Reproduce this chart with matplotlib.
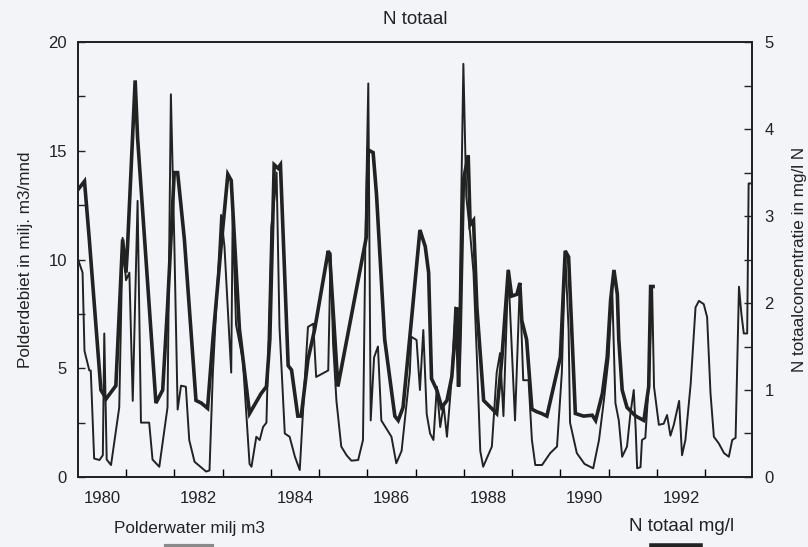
import matplotlib
matplotlib.use('agg')
import matplotlib.pyplot as plt
from matplotlib.lines import Line2D

plt.rcParams['font.family'] = ['Liberation Sans', 'DejaVu Sans']

# polderwater (milj. m3/mnd)
t_water = [1979.50, 1979.60, 1979.64, 1979.74, 1979.77, 1979.84, 1979.95, 1980.02, 1980.05, 1980.10,
           1980.19, 1980.36, 1980.43, 1980.50, 1980.57, 1980.64, 1980.74, 1980.81, 1980.88, 1980.98,
           1981.05, 1981.19, 1981.36, 1981.43, 1981.50, 1981.57, 1981.64, 1981.74, 1981.81, 1981.92,
           1982.16, 1982.23, 1982.30, 1982.47, 1982.54, 1982.68, 1982.71, 1982.78, 1982.92, 1983.06,
           1983.10, 1983.20, 1983.27, 1983.34, 1983.41, 1983.51, 1983.58, 1983.62, 1983.68, 1983.79,
           1983.89, 1984.00, 1984.10, 1984.20, 1984.27, 1984.38, 1984.44, 1984.69, 1984.74, 1984.79,
           1984.86, 1984.96, 1985.07, 1985.17, 1985.31, 1985.41, 1985.46, 1985.52, 1985.57, 1985.64,
           1985.72, 1985.79, 1986.00, 1986.10, 1986.21, 1986.38, 1986.41, 1986.52, 1986.59, 1986.66,
           1986.73, 1986.80, 1986.87, 1986.94, 1987.01, 1987.08, 1987.15, 1987.25, 1987.32, 1987.39,
           1987.49, 1987.55, 1987.63, 1987.70, 1987.77, 1987.84, 1987.90, 1988.08, 1988.18, 1988.25,
           1988.32, 1988.42, 1988.56, 1988.66, 1988.73, 1988.84, 1988.91, 1988.98, 1989.12, 1989.29,
           1989.43, 1989.53, 1989.60, 1989.67, 1989.70, 1989.84, 1990.00, 1990.18, 1990.30, 1990.40,
           1990.50, 1990.57, 1990.64, 1990.71, 1990.78, 1990.88, 1990.95, 1991.02, 1991.06, 1991.09,
           1991.16, 1991.19, 1991.26, 1991.33, 1991.40, 1991.44, 1991.54, 1991.64, 1991.71, 1991.78,
           1991.85, 1991.96, 1992.02, 1992.09, 1992.20, 1992.30, 1992.37, 1992.47, 1992.54, 1992.61,
           1992.68, 1992.78, 1992.89, 1992.99, 1993.06, 1993.13, 1993.20, 1993.25, 1993.30, 1993.37,
           1993.40, 1993.46]
water = [10.05, 9.4, 5.8, 4.9, 4.9, 0.85, 0.78, 1.0, 6.6, 0.8,
         0.55, 3.2, 11.0, 9.05, 9.4, 3.5, 12.7, 2.5, 2.5, 2.5,
         0.8, 0.47, 3.2, 17.6, 10.9, 3.1, 4.2, 4.15, 1.7, 0.7,
         0.25, 0.3, 4.8, 12.05, 10.6, 4.8, 12.1, 7.0, 5.4, 0.6,
         0.47, 1.85, 1.7, 2.3, 2.5, 11.5, 12.9, 14.0, 6.9, 2.0,
         1.85, 0.93, 0.32, 4.3, 6.9, 7.05, 4.6, 4.9, 10.3, 6.15,
         3.5, 1.4, 1.0, 0.75, 0.78, 1.7, 10.9, 18.1, 2.6, 5.5,
         6.0, 2.6, 1.85, 0.63, 1.2, 4.8, 6.45, 6.3, 4.0, 6.76,
         2.9, 2.0, 1.7, 4.15, 2.3, 3.3, 1.85, 4.6, 7.8, 4.8,
         19.0, 12.9, 11.2, 9.4, 5.5, 1.2, 0.47, 1.4, 4.8, 5.7,
         2.8, 9.5, 2.6, 8.9, 4.45, 4.45, 1.7, 0.55, 0.55, 1.1,
         1.4, 4.8, 10.3, 6.76, 2.5, 1.1, 0.6, 0.4, 1.7, 3.5,
         5.5, 8.9, 3.4, 2.6, 0.93, 1.4, 2.9, 4.0, 2.2, 0.4,
         0.45, 1.7, 1.8, 4.3, 8.75, 4.15, 2.4, 2.45, 2.85, 1.9,
         2.4, 3.5, 1.0, 1.7, 4.3, 7.8, 8.1, 7.95, 7.35, 3.85,
         1.85, 1.55, 1.1, 0.93, 1.7, 1.8, 8.75, 7.5, 6.6, 6.6,
         13.5, 13.5]

# N totaal (mg/l N)
t_n = [1979.50, 1979.64, 1979.74, 1979.98, 1980.09, 1980.29, 1980.43, 1980.50, 1980.53, 1980.69,
       1980.74, 1981.12, 1981.26, 1981.36, 1981.50, 1981.57, 1981.71, 1981.95, 1982.06, 1982.19,
       1982.30, 1982.47, 1982.61, 1982.68, 1982.85, 1983.06, 1983.30, 1983.41, 1983.48, 1983.57,
       1983.65, 1983.70, 1983.86, 1983.93, 1984.06, 1984.13, 1984.27, 1984.41, 1984.69, 1984.72,
       1984.89, 1985.48, 1985.52, 1985.62, 1985.69, 1985.86, 1986.07, 1986.14, 1986.24, 1986.41,
       1986.59, 1986.70, 1986.77, 1986.83, 1986.94, 1987.04, 1987.15, 1987.25, 1987.32, 1987.35,
       1987.39, 1987.42, 1987.49, 1987.59, 1987.63, 1987.70, 1987.77, 1987.91, 1988.18, 1988.29,
       1988.42, 1988.49, 1988.60, 1988.66, 1988.70, 1988.80, 1988.91, 1989.01, 1989.11, 1989.22,
       1989.36, 1989.50, 1989.60, 1989.67, 1989.81, 1989.98, 1990.16, 1990.23, 1990.37, 1990.47,
       1990.54, 1990.61, 1990.68, 1990.71, 1990.78, 1990.88, 1991.06, 1991.23, 1991.33, 1991.37,
       1991.42]
n_tot = [3.30, 3.40, 2.73, 1.00, 0.90, 1.05, 2.73, 2.35, 2.63, 4.56,
         3.90, 0.85, 1.00, 1.95, 3.50, 3.50, 2.73, 0.88, 0.85, 0.79,
         1.58, 2.65, 3.48, 3.41, 1.70, 0.73, 0.96, 1.04, 1.58, 3.59,
         3.55, 3.59, 1.28, 1.23, 0.70, 0.70, 1.35, 1.70, 2.60, 2.55,
         1.04, 2.76, 3.76, 3.73, 3.25, 1.58, 0.70, 0.65, 0.80, 1.78,
         2.84, 2.65, 2.35, 1.13, 1.00, 0.80, 0.88, 1.15, 1.65, 1.95,
         1.04, 1.58, 3.41, 3.70, 2.90, 2.95, 1.95, 0.88, 0.73, 1.38,
         2.38, 2.08, 2.10, 2.23, 1.80, 1.58, 0.78, 0.75, 0.73, 0.70,
         1.04, 1.38, 2.60, 2.53, 0.73, 0.70, 0.71, 0.65, 0.96, 1.38,
         2.03, 2.38, 2.10, 1.58, 1.00, 0.80, 0.70, 0.65, 1.04, 2.19,
         2.19]

year_labels = [1980, 1982, 1984, 1986, 1988, 1990, 1992]
year_ticks = [y + 0.5 for y in range(1980, 1993)]

bg = '#f3f4f7'
ink = '#222222'

fig = plt.figure(figsize=(8.08, 5.47), dpi=100, facecolor=bg)
ax = fig.add_axes([0.0965, 0.128, 0.8342, 0.795])
ax.set_facecolor(bg)
ax2 = ax.twinx()

ax.plot(t_water, water, color=ink, lw=1.4)
ax2.plot(t_n, n_tot, color=ink, lw=2.6, solid_joinstyle='miter')

ax.set_xlim(1979.505, 1993.47)
ax.set_ylim(0, 20)
ax2.set_ylim(0, 5)

ax.set_yticks([0, 5, 10, 15, 20])
ax.set_yticks([2.5, 7.5, 12.5, 17.5], minor=True)
ax2.set_yticks([0, 1, 2, 3, 4, 5])
ax2.set_yticks([0.5, 1.5, 2.5, 3.5, 4.5], minor=True)

ax.set_xticks(year_ticks)
ax.set_xticklabels([])
ax.set_xticks(year_labels, minor=True)
ax.set_xticklabels([str(y) for y in year_labels], minor=True)

ax.tick_params(axis='y', which='both', direction='in', length=5, width=1, labelsize=12, pad=8, colors=ink)
ax.tick_params(axis='x', which='major', direction='in', length=6, width=1)
ax.tick_params(axis='x', which='minor', length=0, labelsize=12, pad=10, colors=ink)
ax2.tick_params(axis='y', which='both', direction='in', length=6, width=1, labelsize=12, pad=9, colors=ink)

for a in (ax, ax2):
    for s in a.spines.values():
        s.set_linewidth(1.3)
        s.set_color(ink)

ax.set_ylabel('Polderdebiet in milj. m3/mnd', fontsize=12.3, color=ink, labelpad=11)
ax2.set_ylabel('N totaalconcentratie in mg/l N', fontsize=12.3, color=ink, labelpad=13)
ax.set_title('N totaal', fontsize=13.5, color=ink, pad=13)

# legend along the bottom edge
fig.text(0.235, 0.02, 'Polderwater milj m3', fontsize=12.3, color=ink, ha='center', va='bottom')
fig.text(0.843, 0.022, 'N totaal mg/l', fontsize=13.5, color=ink, ha='center', va='bottom')
fig.add_artist(Line2D([0.205, 0.262], [0.002, 0.002], color='#8a8a8a', lw=3, transform=fig.transFigure))
fig.add_artist(Line2D([0.807, 0.866], [0.002, 0.002], color=ink, lw=4, transform=fig.transFigure))

fig.savefig('out.png', dpi=100, facecolor=bg)
